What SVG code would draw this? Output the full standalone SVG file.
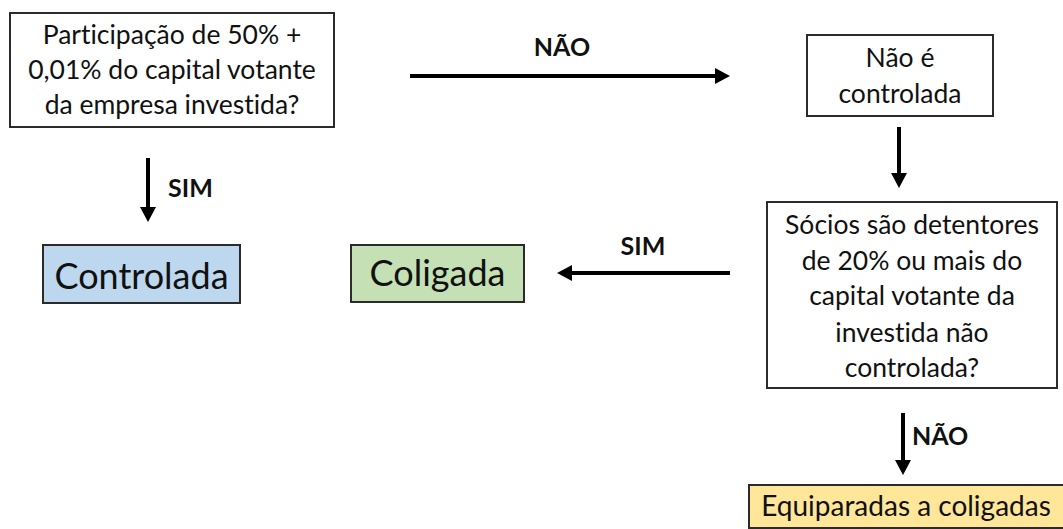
<svg xmlns="http://www.w3.org/2000/svg" width="1063" height="529" viewBox="0 0 1063 529">
<style>
.box{fill:#fff;stroke:#2b2b2b;stroke-width:2}
.t{font-family:Lato,"Liberation Sans",sans-serif;fill:#111;text-anchor:middle;font-variant-ligatures:none;font-feature-settings:"liga" 0}
.q{font-size:26.5px}
.big{font-size:36px}
.lbl{font-family:Lato,"Liberation Sans",sans-serif;font-weight:bold;font-size:25px;fill:#111}
.arr{stroke:#000;stroke-width:4;fill:none;marker-end:url(#ah)}
</style>
<defs>
<marker id="ah" markerUnits="userSpaceOnUse" markerWidth="15" markerHeight="16" refX="0" refY="8" orient="auto" viewBox="0 0 15 16">
<path d="M0,0 L15,8 L0,16 z" fill="#000"/>
</marker>
</defs>
<rect width="1063" height="529" fill="#fff"/>
<g id="q1">
<rect class="box" x="10" y="13" width="324" height="114"/>
<text class="t q" x="172" y="44">Participação de 50% +</text>
<text class="t q" x="172" y="79">0,01% do capital votante</text>
<text class="t q" x="172" y="114">da empresa investida?</text>
</g>
<g id="naoctrl">
<rect class="box" x="807" y="35" width="186" height="81"/>
<text class="t q" x="900" y="67">Não é</text>
<text class="t q" x="900" y="103">controlada</text>
</g>
<g id="q2">
<rect class="box" x="767" y="202" width="290" height="186"/>
<text class="t q" x="912" y="234">Sócios são detentores</text>
<text class="t q" x="912" y="270">de 20% ou mais do</text>
<text class="t q" x="912" y="305">capital votante da</text>
<text class="t q" x="912" y="342">investida não</text>
<text class="t q" x="912" y="377">controlada?</text>
</g>
<g id="controlada">
<rect class="box" x="43" y="245" width="197" height="58" style="fill:#BDD7EE"/>
<text class="t big" x="141.5" y="289">Controlada</text>
</g>
<g id="coligada">
<rect class="box" x="351" y="245" width="173" height="57" style="fill:#C5E0B4"/>
<text class="t big" x="437.5" y="286">Coligada</text>
</g>
<g id="equiparadas">
<rect class="box" x="749" y="485" width="320" height="43" style="fill:#FFE699"/>
<text class="t" style="font-size:28px" x="906" y="516">Equiparadas a coligadas</text>
</g>
<g id="connectors">
<line class="arr" x1="410" y1="76" x2="715" y2="76"/>
<text class="lbl" x="562" y="56" text-anchor="middle">NÃO</text>
<line class="arr" x1="148" y1="158" x2="148" y2="207"/>
<text class="lbl" x="168" y="197">SIM</text>
<line class="arr" x1="899" y1="127" x2="899" y2="173"/>
<line class="arr" x1="730" y1="273" x2="572" y2="273"/>
<text class="lbl" x="643" y="255" text-anchor="middle">SIM</text>
<line class="arr" x1="903" y1="413" x2="903" y2="460"/>
<text class="lbl" x="912" y="445">NÃO</text>
</g>
</svg>
